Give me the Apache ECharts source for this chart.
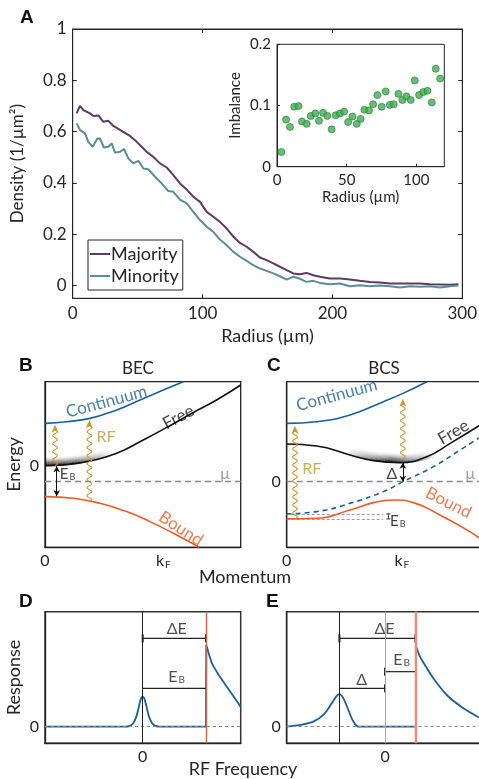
<!DOCTYPE html>
<html>
<head>
<meta charset="utf-8">
<script src="https://cdn.jsdelivr.net/npm/echarts@6/dist/echarts.min.js"></script>
<style>
html, body { margin: 0; padding: 0; background: #fff; }
#main { width: 479px; height: 779px; }
</style>
</head>
<body>
<div id="main"></div>
<script>
// ---------- A: density profiles, radius (µm) vs density (1/µm²) ----------
var majority = [[3,0.671],[5.6,0.700],[8.2,0.684],[13.3,0.671],[15.9,0.661],[19.8,0.663],[23.6,0.638],[27.5,0.642],[31.3,0.622],[37.7,0.603],[44.1,0.583],[49.3,0.560],[53.1,0.541],[57,0.521],[62,0.502],[67.2,0.476],[72.4,0.460],[77.5,0.430],[82.6,0.398],[87.8,0.374],[92.9,0.346],[98,0.326],[103.2,0.287],[108.3,0.268],[113.4,0.248],[118.6,0.222],[123.7,0.190],[128.8,0.166],[134,0.151],[139.1,0.131],[144.2,0.109],[149.3,0.099],[154.5,0.086],[159.6,0.073],[164.7,0.060],[169.9,0.047],[175,0.044],[180,0.049],[185.3,0.040],[190.4,0.034],[198,0.027],[205.8,0.027],[213.5,0.023],[221,0.018],[228.9,0.014],[236.6,0.012],[244.3,0.008],[252,0.008],[259.7,0.008],[267.4,0.008],[275,0.005],[282.8,0.004],[290.5,0.003],[297,0.005]];
var minority = [[3,0.632],[5.6,0.606],[9.5,0.593],[12,0.560],[15.4,0.541],[19,0.573],[21,0.573],[24,0.538],[27.5,0.541],[30,0.554],[32.6,0.518],[36.4,0.521],[39.5,0.532],[42.9,0.495],[46.7,0.476],[50.6,0.486],[54.4,0.456],[58.2,0.453],[63.4,0.424],[68.5,0.398],[73.6,0.368],[77.5,0.365],[82.6,0.335],[87.8,0.320],[92.9,0.287],[98,0.255],[103.2,0.229],[108.3,0.209],[113.4,0.179],[118.6,0.157],[123.7,0.131],[128.8,0.112],[134,0.096],[139.1,0.079],[144.2,0.066],[149.3,0.057],[154.5,0.047],[159.6,0.036],[164.7,0.023],[169.9,0.034],[175,0.026],[180,0.014],[185.3,0.018],[190.4,0.010],[198,0.005],[205.8,0.008],[213.5,-0.003],[221,0.001],[228.9,-0.003],[236.6,0],[244.3,-0.003],[252,-0.008],[259.7,-0.003],[267.4,-0.005],[275,-0.003],[282.8,-0.008],[290.5,-0.003],[297,0]];

// inset: imbalance vs radius
var insetRadius = [3.1,6.5,9.3,12.4,15.5,17.9,21.3,24.2,27.5,30.1,33.0,36.1,39.2,42.1,45.2,48.1,51.0,54.1,57.2,60.0,62.7,66.0,68.9,72.0,75.1,78.0,80.9,83.7,87.1,89.9,92.8,95.9,98.8,101.9,105.0,107.9,111.0,113.9,117.0];
var insetImbalance = [0.024,0.077,0.065,0.098,0.099,0.074,0.070,0.083,0.087,0.075,0.088,0.083,0.061,0.084,0.087,0.090,0.073,0.082,0.070,0.078,0.093,0.092,0.102,0.117,0.098,0.123,0.101,0.102,0.119,0.109,0.115,0.109,0.141,0.117,0.122,0.124,0.105,0.160,0.144];

// ---------- B: BEC dispersion (momentum in k_F, energy arb.) ----------
var becContinuum = [[0,4.23],[0.183,4.4],[0.38,4.73],[0.606,5.57],[0.803,6.57],[1.0,7.57],[1.169,8.4]];
var becFree = [[0,0],[0.183,0.1],[0.38,0.47],[0.606,1.23],[0.83,2.57],[1.03,3.83],[1.25,5.3],[1.45,6.57],[1.654,8.07]];
var becBound = [[0,-3.1],[0.24,-3.27],[0.465,-3.77],[0.69,-4.6],[0.887,-5.6],[1.085,-6.77],[1.304,-8.17]];
var becSea = [[0,0],[0.05,0.01],[0.1,0.03],[0.15,0.06],[0.2,0.11],[0.25,0.18],[0.3,0.26],[0.35,0.37],[0.4,0.5],[0.45,0.66],[0.5,0.85],[0.56,1.08]];
var becSeaDepth = 0.9;
var becMu = -1.6;
var becRF = [[0.085,0,4.1],[0.375,-3.6,4.55]];

// ---------- C: BCS dispersion ----------
var bcsContinuum = [[0,5.83],[0.26,6.0],[0.55,6.67],[0.84,8],[1.01,8.83],[1.217,10]];
var bcsFree = [[0,3.77],[0.26,3.57],[0.55,2.67],[0.754,2.1],[0.986,1.9],[1.217,2.5],[1.42,3.83],[1.7,5.8]];
var bcsPair = [[0,-3.23],[0.26,-3.0],[0.55,-2.17],[0.84,-1.0],[1.01,0],[1.275,1.5],[1.507,3.17],[1.7,4.6]];
var bcsBound = [[0,-3.73],[0.26,-3.67],[0.55,-2.83],[0.754,-2.1],[0.928,-1.83],[1.1,-2.1],[1.33,-3.33],[1.565,-4.83],[1.7,-5.85]];
var bcsSea = [[0.52,2.78],[0.56,2.65],[0.6,2.52],[0.65,2.38],[0.7,2.25],[0.75,2.13],[0.8,2.04],[0.85,1.98],[0.9,1.94],[0.95,1.91],[1.0,1.9],[1.05,1.92],[1.1,1.98],[1.15,2.07],[1.2,2.2],[1.25,2.35],[1.3,2.52]];
var bcsSeaDepth = 1.0;
var bcsRF = [[0.072,-3.73,5.6],[1.009,2.3,8.3]];
var bcsGap = [1.009, 1.9, 0];
var bcsEB = [0.84, -3.23, -3.73];

// ---------- D / E: RF spectra (frequency arb., response arb.) ----------
var specD = [[-1.542,0],[-0.28,0],[-0.2,0.01],[-0.15,0.04],[-0.1,0.12],[-0.06,0.24],[-0.03,0.33],[0,0.36],[0.03,0.33],[0.06,0.24],[0.1,0.12],[0.15,0.04],[0.2,0.01],[0.28,0],[1.0,0]];
var edgeD = [[1.0,0],[1.004,0.98],[1.05,0.86],[1.1,0.75],[1.2,0.62],[1.3,0.51],[1.4,0.4],[1.547,0.24]];
var specE = [[-1.553,0],[-1.342,0.02],[-1.132,0.06],[-0.974,0.14],[-0.842,0.28],[-0.763,0.37],[-0.721,0.39],[-0.658,0.34],[-0.579,0.2],[-0.5,0.06],[-0.421,0],[0.489,0]];
var edgeE = [[0.489,0],[0.493,0.96],[0.54,0.86],[0.605,0.77],[0.763,0.58],[0.974,0.38],[1.237,0.22],[1.484,0.11]];
var dimsD = [[0,1.0,1.06,1,1],[0,1.0,0.46,0,0]];
var dimsE = [[-0.721,0.479,1.06,1,1],[0,0.489,0.66,1,0],[-0.721,0,0.46,0,1]];

var FONT = 'Lato, "Noto Sans", sans-serif';
var INK = '#262626';
var GOLD = '#c8962e';
var BLUE = '#1a5f9e';
var RED = '#f05a28';

var chart = echarts.init(document.getElementById('main'));

function rich(c, s) {
    return {
        m: { fontSize: s, lineHeight: s, verticalAlign: 'top', color: c, fontFamily: FONT },
        s: { fontSize: Math.round(s * 0.6), lineHeight: Math.round(s * 0.6), padding: [Math.round(s * 0.6), 0, 0, 1], verticalAlign: 'bottom', color: c, fontFamily: FONT }
    };
}

function textAxis(grid, min, max, labels, fmt, extra) {
    var a = {
        gridIndex: grid, type: 'value', min: min, max: max,
        axisLine: { show: true, onZero: false, lineStyle: { color: '#222', width: 1.3 } },
        axisTick: { show: false },
        splitLine: { show: false },
        axisLabel: { customValues: labels, fontSize: 16, color: INK, fontFamily: FONT, margin: 6, formatter: fmt, rich: rich(INK, 16) }
    };
    for (var k in extra) a[k] = extra[k];
    return a;
}

function plainLine(xi, data, color, extra) {
    var s = { type: 'line', xAxisIndex: xi, yAxisIndex: xi, data: data, symbol: 'none', smooth: true,
        lineStyle: { color: color, width: 1.6 }, silent: true, z: 3 };
    for (var k in extra) s[k] = extra[k];
    return s;
}

// shaded "Fermi sea": stacked copies of the curve stretch, fading upward and sideways
function seaSeries(xi, base, depth, bothEnds) {
    return { type: 'custom', xAxisIndex: xi, yAxisIndex: xi, data: base, silent: true, z: 1,
        encode: { x: 0, y: 1 },
        renderItem: function (params, api) {
            if (params.dataIndex !== 0) return null;
            var pts = base.map(function (p) { return api.coord(p); });
            var px = pts[0][1] - api.coord([base[0][0], base[0][1] + depth])[1];
            var x0 = pts[0][0], x1 = pts[pts.length - 1][0];
            var kids = [];
            for (var j = 0; j < px; j += 0.8) {
                var a = 0.95 * Math.pow(1 - j / px, 1.6);
                var stops = bothEnds
                    ? [{ offset: 0, color: 'rgba(0,0,0,0)' }, { offset: 0.3, color: 'rgba(0,0,0,' + a * 0.6 + ')' }, { offset: 0.5, color: 'rgba(0,0,0,' + a + ')' }, { offset: 0.7, color: 'rgba(0,0,0,' + a * 0.6 + ')' }, { offset: 1, color: 'rgba(0,0,0,0)' }]
                    : [{ offset: 0, color: 'rgba(0,0,0,' + a + ')' }, { offset: 0.5, color: 'rgba(0,0,0,' + a * 0.8 + ')' }, { offset: 1, color: 'rgba(0,0,0,0)' }];
                kids.push({ type: 'polyline', shape: { points: pts.map(function (p) { return [p[0], p[1] - j]; }), smooth: 0.3 },
                    style: { fill: null, lineWidth: 1, stroke: new echarts.graphic.LinearGradient(x0, 0, x1, 0, stops, true) } });
            }
            return { type: 'group', children: kids };
        }
    };
}

function waveSeries(xi, data) {
    return { type: 'custom', xAxisIndex: xi, yAxisIndex: xi, data: data, silent: true, z: 4, clip: false,
        encode: { x: 0, y: [1, 2] },
        renderItem: function (params, api) {
            var a = api.coord([api.value(0), api.value(1)]);
            var b = api.coord([api.value(0), api.value(2)]);
            var pts = [];
            for (var y = a[1]; y >= b[1] + 6; y -= 0.5) {
                pts.push([a[0] + 2.3 * Math.sin((a[1] - y) / 8 * 2 * Math.PI), y]);
            }
            return { type: 'group', children: [
                { type: 'polyline', shape: { points: pts }, style: { stroke: GOLD, lineWidth: 1.1, fill: null } },
                { type: 'polygon', shape: { points: [[b[0], b[1]], [b[0] - 3.5, b[1] + 8], [b[0], b[1] + 6], [b[0] + 3.5, b[1] + 8]] }, style: { fill: GOLD } }
            ] };
        }
    };
}

function dimSeries(xi, data) {
    return { type: 'custom', xAxisIndex: xi, yAxisIndex: xi, data: data, silent: true, z: 4, clip: false,
        encode: { x: [0, 1], y: 2 },
        renderItem: function (params, api) {
            var a = api.coord([api.value(0), api.value(2)]);
            var b = api.coord([api.value(1), api.value(2)]);
            var ch = [{ type: 'line', shape: { x1: a[0], y1: a[1], x2: b[0], y2: b[1] }, style: { stroke: '#222', lineWidth: 1.2 } }];
            if (api.value(3)) ch.push({ type: 'line', shape: { x1: a[0], y1: a[1] - 4, x2: a[0], y2: a[1] + 4 }, style: { stroke: '#222', lineWidth: 2 } });
            if (api.value(4)) ch.push({ type: 'line', shape: { x1: b[0], y1: b[1] - 4, x2: b[0], y2: b[1] + 4 }, style: { stroke: '#222', lineWidth: 2 } });
            return { type: 'group', children: ch };
        }
    };
}

function labels(xi, items) {
    return { type: 'scatter', xAxisIndex: xi, yAxisIndex: xi, symbolSize: 0, silent: true, z: 6,
        data: items.map(function (it) {
            var s = it[4] || 16;
            return { value: [it[1], it[2]], label: { show: true, position: 'inside', formatter: it[0], rotate: it[3] || 0,
                color: it[5], fontSize: s, fontFamily: FONT, rich: rich(it[5], s) } };
        }) };
}

var boxLine = { show: true, onZero: false, lineStyle: { color: INK } };
var labStyle = { fontSize: 18, color: INK, fontFamily: FONT };
function numFmt(v) { return String(Math.round(v * 10) / 10); }

var gridBox = { show: true, borderColor: '#222', borderWidth: 1.3, outerBoundsMode: 'none' };
function g(l, t, w, h, extra) {
    var o = { left: l, top: t, width: w, height: h };
    for (var k in gridBox) o[k] = gridBox[k];
    for (var k2 in extra) o[k2] = extra[k2];
    return o;
}

var option = {
    backgroundColor: '#fff',
    animation: false,
    grid: [
        g(72.7, 29, 389.6, 269.3, { borderColor: INK, borderWidth: 1 }),
        g(277, 44.3, 167.3, 122.4, { borderColor: INK, borderWidth: 1, backgroundColor: '#fff' }),
        g(45, 381.7, 195.7, 165.6),
        g(286.7, 381.7, 195.7, 165.6),
        g(45, 611.7, 195.7, 131.6, { borderColor: '#333', borderWidth: 1.5 }),
        g(286.7, 611.7, 195.7, 131.6, { borderColor: '#333', borderWidth: 1.5 })
    ],
    legend: {
        left: 88, top: 240, orient: 'vertical', backgroundColor: '#fff',
        borderColor: INK, borderWidth: 1, borderRadius: 0, padding: [4, 4, 4, 2], itemGap: 2,
        icon: 'rect', itemWidth: 20, itemHeight: 2,
        textStyle: { fontSize: 18, lineHeight: 20, color: INK, fontFamily: FONT, padding: [0, 0, 0, -4] },
        data: ['Majority', 'Minority']
    },
    xAxis: [
        { gridIndex: 0, type: 'value', min: 0, max: 300, axisLine: boxLine, axisTick: { inside: true, length: 4, lineStyle: { color: INK }, customValues: [0, 100, 200, 300] },
          axisLabel: { customValues: [0, 100, 200, 300], fontSize: 17, color: INK, fontFamily: FONT, margin: 7 }, splitLine: { show: false },
          name: 'Radius (µm)', nameLocation: 'middle', nameGap: 29, nameTextStyle: labStyle },
        { gridIndex: 0, type: 'value', min: 0, max: 300, position: 'top', axisLine: boxLine, axisTick: { inside: true, length: 4, lineStyle: { color: INK }, customValues: [100, 200] },
          axisLabel: { show: false }, splitLine: { show: false } },
        { gridIndex: 1, type: 'value', min: 0, max: 120, axisLine: boxLine, axisTick: { inside: true, length: 3, lineStyle: { color: INK }, customValues: [0, 50, 100] },
          axisLabel: { customValues: [0, 50, 100], fontSize: 15, color: INK, fontFamily: FONT, margin: 6 }, splitLine: { show: false },
          name: 'Radius (µm)', nameLocation: 'middle', nameGap: 23, nameTextStyle: { fontSize: 15, color: INK, fontFamily: FONT } },
        textAxis(2, 0, 1.654, [0, 1], function (v) { return v === 0 ? '0' : '{m|k}{s|F}'; }, {}),
        textAxis(3, 0, 1.70, [0, 1], function (v) { return v === 0 ? '0' : '{m|k}{s|F}'; }, {}),
        textAxis(4, -1.542, 1.547, [0], function () { return '0'; }, {}),
        textAxis(5, -1.553, 1.537, [0], function () { return '0'; }, {})
    ],
    yAxis: [
        { gridIndex: 0, type: 'value', min: -0.05, max: 1, axisLine: boxLine,
          axisTick: { inside: true, length: 4, lineStyle: { color: INK }, customValues: [0, 0.2, 0.4, 0.6, 0.8, 1] },
          axisLabel: { customValues: [0, 0.2, 0.4, 0.6, 0.8, 1], formatter: numFmt, fontSize: 17, color: INK, fontFamily: FONT, margin: 6 },
          splitLine: { show: false },
          name: 'Density (1/µm²)', nameLocation: 'middle', nameGap: 47, nameTextStyle: { fontSize: 17, color: INK, fontFamily: FONT } },
        { gridIndex: 0, type: 'value', min: -0.05, max: 1, position: 'right', axisLine: boxLine,
          axisTick: { inside: true, length: 4, lineStyle: { color: INK }, customValues: [0.2, 0.4, 0.6, 0.8] },
          axisLabel: { show: false }, splitLine: { show: false } },
        { gridIndex: 1, type: 'value', min: 0, max: 0.2, axisLine: boxLine,
          axisTick: { inside: true, length: 3, lineStyle: { color: INK }, customValues: [0, 0.1, 0.2] },
          axisLabel: { customValues: [0, 0.1, 0.2], formatter: numFmt, fontSize: 15, color: INK, fontFamily: FONT, margin: 6 },
          splitLine: { show: false },
          name: 'Imbalance', nameLocation: 'middle', nameGap: 34, nameTextStyle: { fontSize: 15, color: INK, fontFamily: FONT } },
        textAxis(2, -8.17, 8.4, [0], function () { return '0'; },
            { name: 'Energy', nameLocation: 'middle', nameGap: 22, nameTextStyle: labStyle }),
        textAxis(3, -6.57, 10, [0], function () { return '0'; }, {}),
        textAxis(4, -0.2, 1.38, [0], function () { return '0'; },
            { name: 'Response', nameLocation: 'middle', nameGap: 22, nameTextStyle: labStyle }),
        textAxis(5, -0.2, 1.38, [0], function () { return '0'; }, {})
    ],
    graphic: [
        { type: 'text', x: 20, y: 8, style: { text: 'A', font: 'bold 19px "Liberation Sans"', fill: '#111' } },
        { type: 'text', x: 19, y: 356, style: { text: 'B', font: 'bold 19px "Liberation Sans"', fill: '#111' } },
        { type: 'text', x: 267, y: 356, style: { text: 'C', font: 'bold 19px "Liberation Sans"', fill: '#111' } },
        { type: 'text', x: 19, y: 592, style: { text: 'D', font: 'bold 19px "Liberation Sans"', fill: '#111' } },
        { type: 'text', x: 266, y: 592, style: { text: 'E', font: 'bold 19px "Liberation Sans"', fill: '#111' } },
        { type: 'text', x: 138, y: 369, style: { text: 'BEC', font: '17px ' + FONT, fill: INK, textAlign: 'center', textVerticalAlign: 'middle' } },
        { type: 'text', x: 384, y: 369, style: { text: 'BCS', font: '17px ' + FONT, fill: INK, textAlign: 'center', textVerticalAlign: 'middle' } },
        { type: 'text', x: 245, y: 577, style: { text: 'Momentum', font: '18px ' + FONT, fill: INK, textAlign: 'center', textVerticalAlign: 'middle' } },
        { type: 'text', x: 243, y: 769, style: { text: 'RF Frequency', font: '18px ' + FONT, fill: INK, textAlign: 'center', textVerticalAlign: 'middle' } }
    ],
    series: [
        // A
        { name: 'Majority', type: 'line', xAxisIndex: 0, yAxisIndex: 0, data: majority, symbol: 'none', color: '#5c3c63', lineStyle: { width: 2 } },
        { name: 'Minority', type: 'line', xAxisIndex: 0, yAxisIndex: 0, data: minority, symbol: 'none', color: '#5a8e96', lineStyle: { width: 2 } },
        { type: 'scatter', xAxisIndex: 2, yAxisIndex: 2, symbolSize: 7,
          data: insetRadius.map(function (r, i) { return [r, insetImbalance[i]]; }),
          itemStyle: { color: '#3fae4f', borderColor: '#2b7d38', borderWidth: 0.8 } },

        // B
        seaSeries(3, becSea, becSeaDepth, false),
        plainLine(3, becContinuum, BLUE),
        plainLine(3, becFree, '#111', {
            markLine: { silent: true, symbol: 'none', label: { show: false },
                data: [{ yAxis: becMu, lineStyle: { color: '#8a8a8a', type: [6, 4], width: 1.3 } }] } }),
        plainLine(3, becBound, RED, {
            markLine: { silent: true, symbol: ['arrow', 'arrow'], symbolSize: [5, 6], label: { show: false },
                lineStyle: { color: '#111', type: 'solid', width: 1 },
                data: [[{ coord: [0.099, -0.05] }, { coord: [0.099, -3.05] }]] } }),
        waveSeries(3, becRF),
        labels(3, [
            ['Continuum', 0.52, 6.4, 15, 17, BLUE],
            ['Free', 1.127, 4.85, 28, 17, '#111'],
            ['Bound', 1.149, -6.3, -33, 17, RED],
            ['RF', 0.515, 2.9, 0, 16, GOLD],
            ['μ', 1.521, -0.77, 0, 16, '#888'],
            ['{m|E}{s|B}', 0.19, -0.85, 0, 15, '#111'],
            ['≈', -0.03, 3.07, 70, 13, '#111']
        ]),

        // C
        seaSeries(4, bcsSea, bcsSeaDepth, true),
        plainLine(4, bcsContinuum, BLUE),
        plainLine(4, bcsFree, '#111', {
            markLine: { silent: true, symbol: 'none', label: { show: false },
                data: [
                    { yAxis: 0, lineStyle: { color: '#8a8a8a', type: [6, 4], width: 1.3 } },
                    [{ coord: [0, bcsEB[1]], lineStyle: { color: '#888', type: [3, 2], width: 0.8 } }, { coord: [bcsEB[0], bcsEB[1]] }],
                    [{ coord: [0, bcsEB[2]], lineStyle: { color: '#888', type: [3, 2], width: 0.8 } }, { coord: [bcsEB[0], bcsEB[2]] }]
                ] } }),
        plainLine(4, bcsPair, BLUE, { lineStyle: { color: BLUE, width: 1.6, type: [5, 4] } }),
        plainLine(4, bcsBound, RED, {
            markLine: { silent: true, symbol: ['arrow', 'arrow'], symbolSize: [5, 6], label: { show: false },
                lineStyle: { color: '#111', type: 'solid', width: 1 },
                data: [[{ coord: [bcsGap[0], bcsGap[1]] }, { coord: [bcsGap[0], bcsGap[2]] }]] } }),
        { type: 'custom', xAxisIndex: 4, yAxisIndex: 4, data: [bcsEB], silent: true, z: 4,
          encode: { x: 0, y: [1, 2] },
          renderItem: function (params, api) {
              var a = api.coord([api.value(0), api.value(1)]);
              var b = api.coord([api.value(0), api.value(2)]);
              var x = a[0] + 5;
              return { type: 'group', children: [
                  { type: 'line', shape: { x1: x, y1: a[1], x2: x, y2: b[1] }, style: { stroke: '#333', lineWidth: 1 } },
                  { type: 'line', shape: { x1: x - 2, y1: a[1], x2: x + 2, y2: a[1] }, style: { stroke: '#333', lineWidth: 1 } },
                  { type: 'line', shape: { x1: x - 2, y1: b[1], x2: x + 2, y2: b[1] }, style: { stroke: '#333', lineWidth: 1 } }
              ] };
          } },
        waveSeries(4, bcsRF),
        labels(4, [
            ['Continuum', 0.435, 8.65, 15, 17, BLUE],
            ['Free', 1.449, 4.95, 30, 17, '#111'],
            ['Bound', 1.406, -2.1, -27, 17, RED],
            ['RF', 0.217, 1.33, 0, 16, GOLD],
            ['μ', 1.594, 0.83, 0, 16, '#888'],
            ['Δ', 0.913, 0.83, 0, 16, '#111'],
            ['{m|E}{s|B}', 0.965, -3.95, 0, 15, '#111'],
            ['≈', -0.03, 4.67, 70, 13, '#111']
        ]),

        // D
        plainLine(5, specD, BLUE, { lineStyle: { color: BLUE, width: 1.8 }, smooth: 0.3,
            markLine: { silent: true, symbol: 'none', label: { show: false },
                data: [
                    { yAxis: 0, lineStyle: { color: '#888', type: [3, 3], width: 1 } },
                    { xAxis: 0, lineStyle: { color: '#222', type: 'solid', width: 1 } },
                    { xAxis: 1.0, lineStyle: { color: RED, type: 'solid', width: 1.4 } }
                ] } }),
        plainLine(5, edgeD, BLUE, { lineStyle: { color: BLUE, width: 1.8 }, smooth: 0.25 }),
        dimSeries(5, dimsD),
        labels(5, [
            ['ΔE', 0.537, 1.18, 0, 16, '#222'],
            ['{m|E}{s|B}', 0.537, 0.6, 0, 16, '#222']
        ]),

        // E
        plainLine(6, specE, BLUE, { lineStyle: { color: BLUE, width: 1.8 }, smooth: 0.3,
            markLine: { silent: true, symbol: 'none', label: { show: false },
                data: [
                    { yAxis: 0, lineStyle: { color: '#888', type: [3, 3], width: 1 } },
                    { xAxis: -0.721, lineStyle: { color: '#222', type: 'solid', width: 1 } },
                    { xAxis: 0, lineStyle: { color: '#aaa', type: 'solid', width: 1 } },
                    { xAxis: 0.489, lineStyle: { color: '#f4896b', type: 'solid', width: 2.4 } }
                ] } }),
        plainLine(6, edgeE, BLUE, { lineStyle: { color: BLUE, width: 1.8 }, smooth: 0.25 }),
        dimSeries(6, dimsE),
        labels(6, [
            ['ΔE', -0.01, 1.18, 0, 16, '#222'],
            ['{m|E}{s|B}', 0.263, 0.8, 0, 16, '#222'],
            ['Δ', -0.368, 0.56, 0, 16, '#222']
        ])
    ]
};

chart.setOption(option);
</script>
</body>
</html>
